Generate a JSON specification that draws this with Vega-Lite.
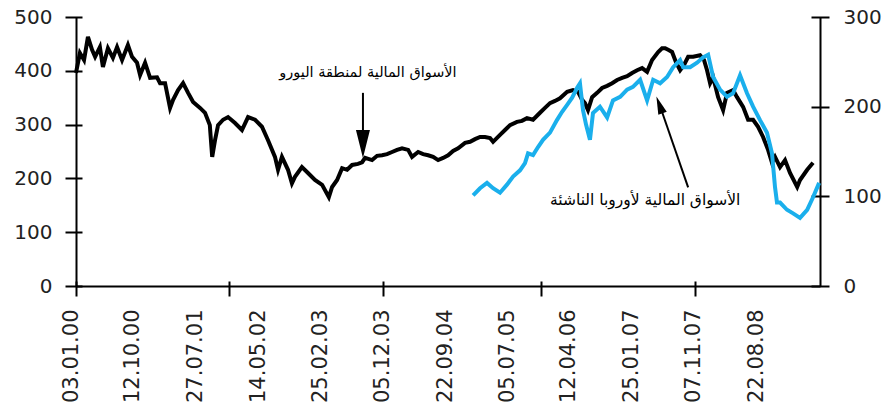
{
  "$schema": "https://vega.github.io/schema/vega-lite/v6.json",
  "width": 744,
  "height": 269,
  "autosize": {"type": "none"},
  "padding": {"left": 76, "top": 17, "right": 67, "bottom": 129},
  "background": "white",
  "config": {
    "view": {"stroke": null},
    "axis": {
      "domainColor": "#000",
      "tickColor": "#000",
      "domainWidth": 2,
      "tickWidth": 2,
      "grid": false,
      "labelFont": "DejaVu Sans",
      "labelFontSize": 20,
      "labelColor": "#222",
      "title": null
    }
  },
  "datasets": {
    "euro": [
      {"date": "2000-01-03", "value": 396}, {"date": "2000-01-21", "value": 433}, {"date": "2000-02-09", "value": 420},
      {"date": "2000-02-27", "value": 463}, {"date": "2000-03-17", "value": 439}, {"date": "2000-03-31", "value": 426},
      {"date": "2000-04-22", "value": 444}, {"date": "2000-05-06", "value": 407}, {"date": "2000-05-29", "value": 442},
      {"date": "2000-06-21", "value": 424}, {"date": "2000-07-10", "value": 444}, {"date": "2000-08-02", "value": 420},
      {"date": "2000-08-29", "value": 448}, {"date": "2000-09-17", "value": 426}, {"date": "2000-10-10", "value": 415},
      {"date": "2000-10-24", "value": 392}, {"date": "2000-11-16", "value": 415}, {"date": "2000-12-09", "value": 387},
      {"date": "2001-01-10", "value": 388}, {"date": "2001-01-24", "value": 377}, {"date": "2001-02-16", "value": 377},
      {"date": "2001-03-11", "value": 331}, {"date": "2001-03-25", "value": 346}, {"date": "2001-04-17", "value": 364},
      {"date": "2001-05-10", "value": 377}, {"date": "2001-06-02", "value": 359}, {"date": "2001-06-25", "value": 342},
      {"date": "2001-07-27", "value": 331}, {"date": "2001-08-19", "value": 322}, {"date": "2001-09-10", "value": 299},
      {"date": "2001-09-21", "value": 240}, {"date": "2001-10-04", "value": 271}, {"date": "2001-10-18", "value": 299},
      {"date": "2001-11-10", "value": 309}, {"date": "2001-12-03", "value": 314}, {"date": "2002-01-04", "value": 303},
      {"date": "2002-02-05", "value": 290}, {"date": "2002-03-05", "value": 314}, {"date": "2002-04-06", "value": 309},
      {"date": "2002-05-08", "value": 296}, {"date": "2002-06-05", "value": 271}, {"date": "2002-07-07", "value": 240},
      {"date": "2002-07-21", "value": 216}, {"date": "2002-08-08", "value": 240}, {"date": "2002-09-05", "value": 216},
      {"date": "2002-09-23", "value": 191}, {"date": "2002-10-07", "value": 203}, {"date": "2002-11-08", "value": 221},
      {"date": "2002-12-06", "value": 210}, {"date": "2003-01-07", "value": 197}, {"date": "2003-02-09", "value": 188},
      {"date": "2003-03-12", "value": 165}, {"date": "2003-03-27", "value": 184}, {"date": "2003-04-19", "value": 197},
      {"date": "2003-05-12", "value": 219}, {"date": "2003-06-04", "value": 216}, {"date": "2003-06-27", "value": 225},
      {"date": "2003-07-24", "value": 227}, {"date": "2003-08-12", "value": 230}, {"date": "2003-08-26", "value": 238},
      {"date": "2003-09-27", "value": 234}, {"date": "2003-10-20", "value": 242}, {"date": "2003-11-12", "value": 243},
      {"date": "2003-12-05", "value": 245}, {"date": "2003-12-28", "value": 249}, {"date": "2004-01-20", "value": 253},
      {"date": "2004-02-12", "value": 256}, {"date": "2004-03-11", "value": 253}, {"date": "2004-03-29", "value": 240},
      {"date": "2004-04-26", "value": 249}, {"date": "2004-05-19", "value": 245}, {"date": "2004-06-11", "value": 243},
      {"date": "2004-07-04", "value": 240}, {"date": "2004-07-27", "value": 234}, {"date": "2004-08-19", "value": 238},
      {"date": "2004-09-11", "value": 243}, {"date": "2004-10-04", "value": 251}, {"date": "2004-10-27", "value": 256},
      {"date": "2004-11-28", "value": 266}, {"date": "2004-12-21", "value": 268}, {"date": "2005-01-13", "value": 273},
      {"date": "2005-02-05", "value": 277}, {"date": "2005-02-28", "value": 277}, {"date": "2005-03-23", "value": 275},
      {"date": "2005-04-06", "value": 268}, {"date": "2005-05-08", "value": 281}, {"date": "2005-05-31", "value": 290},
      {"date": "2005-06-23", "value": 299}, {"date": "2005-07-25", "value": 305}, {"date": "2005-08-17", "value": 307},
      {"date": "2005-09-09", "value": 312}, {"date": "2005-10-07", "value": 309}, {"date": "2005-11-08", "value": 322},
      {"date": "2005-12-01", "value": 331}, {"date": "2005-12-24", "value": 340}, {"date": "2006-01-16", "value": 344},
      {"date": "2006-02-08", "value": 349}, {"date": "2006-03-13", "value": 361}, {"date": "2006-04-09", "value": 364},
      {"date": "2006-05-02", "value": 361}, {"date": "2006-05-21", "value": 346}, {"date": "2006-06-03", "value": 340},
      {"date": "2006-06-17", "value": 327}, {"date": "2006-07-06", "value": 351}, {"date": "2006-07-29", "value": 359},
      {"date": "2006-08-21", "value": 368}, {"date": "2006-09-13", "value": 372}, {"date": "2006-10-06", "value": 377},
      {"date": "2006-10-29", "value": 383}, {"date": "2006-11-21", "value": 387}, {"date": "2006-12-14", "value": 390},
      {"date": "2007-01-06", "value": 396}, {"date": "2007-01-29", "value": 401}, {"date": "2007-02-21", "value": 405},
      {"date": "2007-03-16", "value": 398}, {"date": "2007-04-08", "value": 420}, {"date": "2007-05-06", "value": 435},
      {"date": "2007-05-24", "value": 442}, {"date": "2007-06-07", "value": 442}, {"date": "2007-06-21", "value": 439},
      {"date": "2007-07-09", "value": 435}, {"date": "2007-07-27", "value": 416}, {"date": "2007-08-15", "value": 401},
      {"date": "2007-09-02", "value": 411}, {"date": "2007-09-21", "value": 426}, {"date": "2007-10-14", "value": 426},
      {"date": "2007-11-15", "value": 429}, {"date": "2007-12-03", "value": 420}, {"date": "2007-12-17", "value": 401},
      {"date": "2007-12-31", "value": 377}, {"date": "2008-01-14", "value": 388}, {"date": "2008-02-06", "value": 351},
      {"date": "2008-02-29", "value": 327}, {"date": "2008-03-18", "value": 359}, {"date": "2008-04-15", "value": 364},
      {"date": "2008-05-03", "value": 351}, {"date": "2008-05-31", "value": 333}, {"date": "2008-06-23", "value": 309},
      {"date": "2008-07-16", "value": 309}, {"date": "2008-08-08", "value": 296}, {"date": "2008-08-31", "value": 277},
      {"date": "2008-09-23", "value": 253}, {"date": "2008-10-11", "value": 229}, {"date": "2008-10-25", "value": 240},
      {"date": "2008-11-17", "value": 221}, {"date": "2008-12-10", "value": 234}, {"date": "2009-01-02", "value": 210},
      {"date": "2009-02-04", "value": 184}, {"date": "2009-02-17", "value": 197}, {"date": "2009-03-22", "value": 216},
      {"date": "2009-04-18", "value": 229}
    ],
    "emerging": [
      {"date": "2005-01-04", "value": 101}, {"date": "2005-02-05", "value": 109}, {"date": "2005-03-09", "value": 115},
      {"date": "2005-04-06", "value": 109}, {"date": "2005-05-08", "value": 104}, {"date": "2005-06-09", "value": 113},
      {"date": "2005-07-07", "value": 122}, {"date": "2005-08-08", "value": 129}, {"date": "2005-08-31", "value": 137},
      {"date": "2005-09-14", "value": 148}, {"date": "2005-10-07", "value": 146}, {"date": "2005-10-30", "value": 155},
      {"date": "2005-11-22", "value": 163}, {"date": "2005-12-24", "value": 171}, {"date": "2006-01-25", "value": 185},
      {"date": "2006-02-17", "value": 194}, {"date": "2006-03-13", "value": 202}, {"date": "2006-04-05", "value": 210},
      {"date": "2006-04-28", "value": 221}, {"date": "2006-05-11", "value": 226}, {"date": "2006-05-25", "value": 196},
      {"date": "2006-06-08", "value": 180}, {"date": "2006-06-26", "value": 163}, {"date": "2006-07-10", "value": 193},
      {"date": "2006-08-11", "value": 200}, {"date": "2006-09-13", "value": 188}, {"date": "2006-10-10", "value": 207},
      {"date": "2006-11-12", "value": 211}, {"date": "2006-12-14", "value": 219}, {"date": "2007-01-10", "value": 222},
      {"date": "2007-02-12", "value": 230}, {"date": "2007-03-16", "value": 207}, {"date": "2007-04-13", "value": 230},
      {"date": "2007-05-15", "value": 226}, {"date": "2007-06-16", "value": 233}, {"date": "2007-07-14", "value": 244},
      {"date": "2007-08-15", "value": 252}, {"date": "2007-08-29", "value": 244}, {"date": "2007-09-30", "value": 244},
      {"date": "2007-11-01", "value": 249}, {"date": "2007-11-29", "value": 255}, {"date": "2007-12-22", "value": 258},
      {"date": "2008-01-14", "value": 233}, {"date": "2008-02-15", "value": 219}, {"date": "2008-03-18", "value": 211},
      {"date": "2008-04-15", "value": 215}, {"date": "2008-05-17", "value": 235}, {"date": "2008-06-18", "value": 215},
      {"date": "2008-07-16", "value": 200}, {"date": "2008-08-17", "value": 185}, {"date": "2008-09-18", "value": 171},
      {"date": "2008-10-11", "value": 148}, {"date": "2008-10-25", "value": 110}, {"date": "2008-11-03", "value": 93},
      {"date": "2008-11-17", "value": 93}, {"date": "2008-12-19", "value": 85}, {"date": "2009-01-16", "value": 81},
      {"date": "2009-02-17", "value": 76}, {"date": "2009-03-22", "value": 85}, {"date": "2009-04-18", "value": 99},
      {"date": "2009-05-16", "value": 115}
    ],
    "euroArrow": [{"date": "2003-08-16", "value": 359, "value2": 284}],
    "euroHead": [{"date": "2003-08-16", "value": 264}],
    "euroLabel": [{"date": "2003-09-08", "value": 396, "label": "الأسواق المالية لمنطقة اليورو"}],
    "emArrow": [{"date": "2007-09-21", "value": 110, "date2": "2007-05-24", "value2": 194}],
    "emHead": [{"date": "2007-05-12", "value": 202}],
    "emLabel": [{"date": "2007-03-07", "value": 96, "label": "الأسواق المالية لأوروبا الناشئة"}]
  },
  "layer": [
    {
      "layer": [
        {
          "data": {"name": "euro"},
          "mark": {"type": "line", "color": "#000000", "strokeWidth": 4},
          "encoding": {
            "x": {
              "field": "date", "type": "temporal",
              "scale": {"domain": [{"year": 2000, "month": 1, "date": 3}, {"year": 2009, "month": 5, "date": 20}]},
              "axis": {
                "orient": "bottom", "domain": true, "ticks": false, "labels": true,
                "labelAngle": -90, "labelPadding": 23, "labelOffset": -5, "labelFontSize": 21,
                "labelOverlap": false, "labelFlush": false, "labelBound": false,
                "format": "%d.%m.%y",
                "values": [
                  {"year": 2000, "month": 1, "date": 3}, {"year": 2000, "month": 10, "date": 12},
                  {"year": 2001, "month": 7, "date": 27}, {"year": 2002, "month": 5, "date": 14},
                  {"year": 2003, "month": 2, "date": 25}, {"year": 2003, "month": 12, "date": 5},
                  {"year": 2004, "month": 9, "date": 22}, {"year": 2005, "month": 7, "date": 5},
                  {"year": 2006, "month": 4, "date": 12}, {"year": 2007, "month": 1, "date": 25},
                  {"year": 2007, "month": 11, "date": 7}, {"year": 2008, "month": 8, "date": 22}
                ]
              }
            },
            "y": {
              "field": "value", "type": "quantitative",
              "scale": {"domain": [0, 500]},
              "axis": {"orient": "left", "domain": true, "ticks": false, "labelPadding": 24, "values": [0, 100, 200, 300, 400, 500]}
            }
          }
        },
        {
          "data": {"name": "euroArrow"},
          "mark": {"type": "rule", "color": "#000000", "strokeWidth": 2},
          "encoding": {
            "x": {
              "field": "date", "type": "temporal",
              "axis": {
                "orient": "bottom", "domain": false, "labels": false, "ticks": true, "tickSize": 15, "offset": -5,
                "values": [
                  {"year": 2000, "month": 1, "date": 3}, {"year": 2001, "month": 12, "date": 7},
                  {"year": 2003, "month": 11, "date": 16}, {"year": 2005, "month": 11, "date": 13},
                  {"year": 2007, "month": 10, "date": 23}
                ]
              }
            },
            "y": {
              "field": "value", "type": "quantitative",
              "axis": {"orient": "left", "domain": false, "labels": false, "ticks": true, "tickSize": 17, "offset": -6, "values": [0, 100, 200, 300, 400, 500]}
            },
            "y2": {"field": "value2"}
          }
        },
        {
          "data": {"name": "euroHead"},
          "mark": {"type": "point", "shape": "M-0.5,-1L0.5,-1L0,1Z", "size": 784, "filled": true, "color": "#000000", "opacity": 1},
          "encoding": {
            "x": {"field": "date", "type": "temporal", "axis": null},
            "y": {"field": "value", "type": "quantitative", "axis": null}
          }
        },
        {
          "data": {"name": "euroLabel"},
          "mark": {"type": "text", "font": "DejaVu Sans", "fontSize": 14.5, "color": "#000000"},
          "encoding": {
            "x": {"field": "date", "type": "temporal", "axis": null},
            "y": {"field": "value", "type": "quantitative", "axis": null},
            "text": {"field": "label"}
          }
        }
      ],
      "resolve": {"axis": {"x": "independent", "y": "independent"}}
    },
    {
      "layer": [
        {
          "data": {"name": "emerging"},
          "mark": {"type": "line", "color": "#1AAFEC", "strokeWidth": 4},
          "encoding": {
            "x": {"field": "date", "type": "temporal", "axis": null},
            "y": {
              "field": "value", "type": "quantitative",
              "scale": {"domain": [0, 300]},
              "axis": {"orient": "right", "domain": true, "ticks": false, "labelPadding": 23, "values": [0, 100, 200, 300]}
            }
          }
        },
        {
          "data": {"name": "emArrow"},
          "mark": {"type": "rule", "color": "#000000", "strokeWidth": 2},
          "encoding": {
            "x": {"field": "date", "type": "temporal", "axis": null},
            "x2": {"field": "date2"},
            "y": {
              "field": "value", "type": "quantitative",
              "axis": {"orient": "right", "domain": false, "labels": false, "ticks": true, "tickSize": 18, "offset": -9, "values": [0, 100, 200, 300]}
            },
            "y2": {"field": "value2"}
          }
        },
        {
          "data": {"name": "emHead"},
          "mark": {"type": "point", "shape": "M-0.5,-1L0.5,-1L0,1Z", "size": 324, "angle": 160, "filled": true, "color": "#000000", "opacity": 1},
          "encoding": {
            "x": {"field": "date", "type": "temporal", "axis": null},
            "y": {"field": "value", "type": "quantitative", "axis": null}
          }
        },
        {
          "data": {"name": "emLabel"},
          "mark": {"type": "text", "font": "DejaVu Sans", "fontSize": 15.5, "color": "#000000"},
          "encoding": {
            "x": {"field": "date", "type": "temporal", "axis": null},
            "y": {"field": "value", "type": "quantitative", "axis": null},
            "text": {"field": "label"}
          }
        }
      ],
      "resolve": {"axis": {"x": "independent", "y": "independent"}}
    }
  ],
  "resolve": {"scale": {"y": "independent"}, "axis": {"x": "independent", "y": "independent"}}
}
